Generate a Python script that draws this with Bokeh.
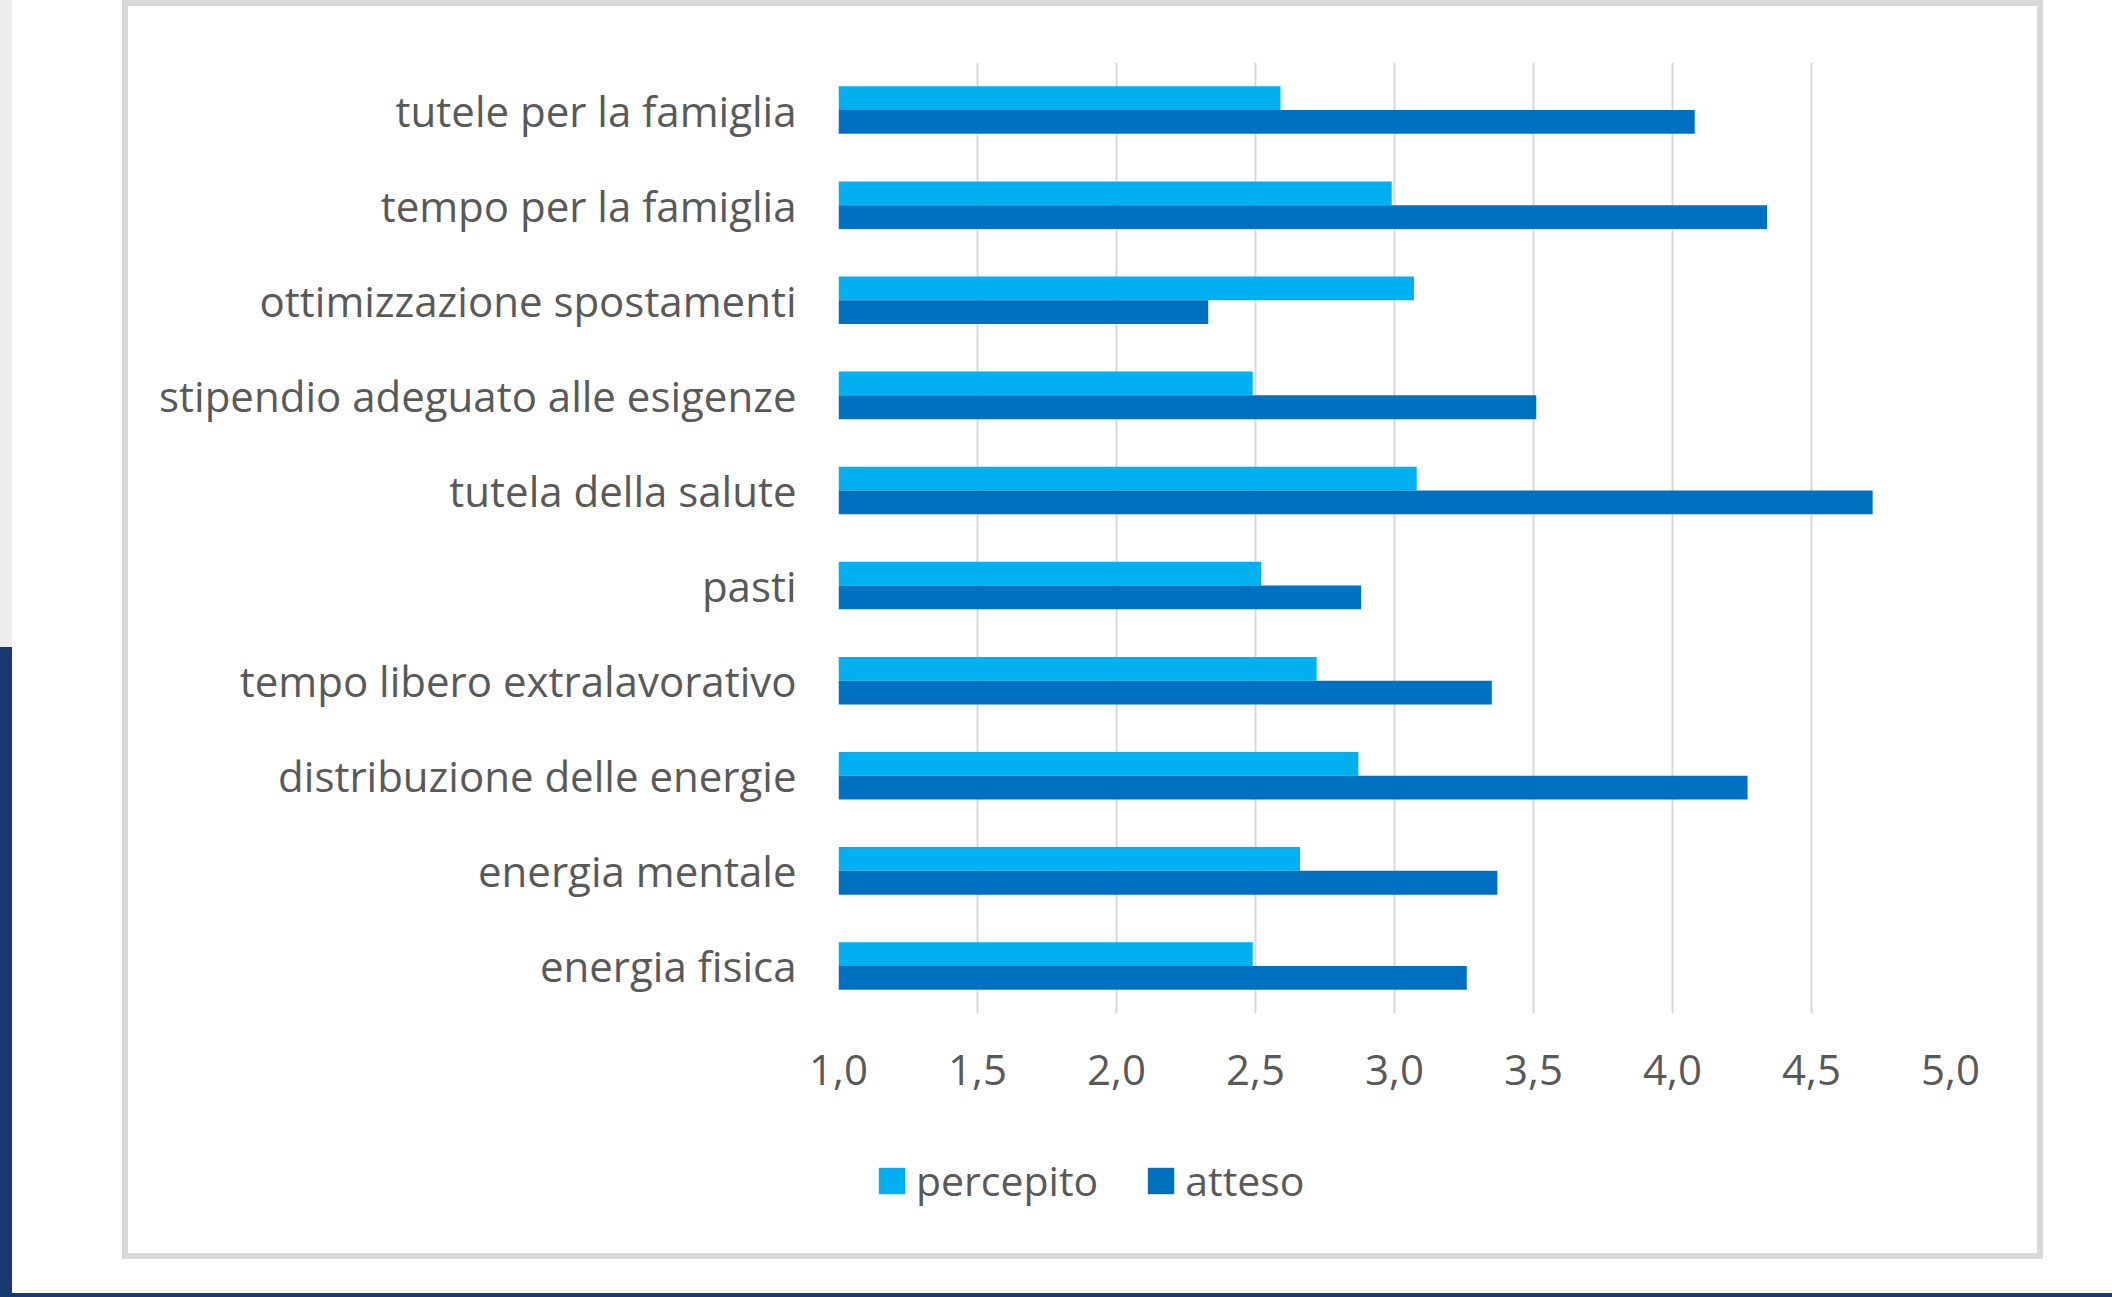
from bokeh.plotting import figure
from bokeh.layouts import column, row
from bokeh.models import (FactorRange, Range1d, FixedTicker, CustomJSTickFormatter,
                          Legend, LegendItem, ColumnDataSource, Div)
from bokeh.transform import dodge
from bokeh.embed import file_html
from bokeh.resources import INLINE

categories = [
    "tutele per la famiglia",
    "tempo per la famiglia",
    "ottimizzazione spostamenti",
    "stipendio adeguato alle esigenze",
    "tutela della salute",
    "pasti",
    "tempo libero extralavorativo",
    "distribuzione delle energie",
    "energia mentale",
    "energia fisica",
]
percepito = [2.59, 2.99, 3.07, 2.49, 3.08, 2.52, 2.72, 2.87, 2.66, 2.49]
atteso = [4.08, 4.34, 2.33, 3.51, 4.72, 2.88, 3.35, 4.27, 3.37, 3.26]
x_ticks = [1.0, 1.5, 2.0, 2.5, 3.0, 3.5, 4.0, 4.5, 5.0]
series_names = ["percepito", "atteso"]
colors = ["#00B0F0", "#0070C0"]

FONT = "Open Sans"
TEXT_COLOR = "#595959"
FS = "42px"
BORDER = "6px solid #D9D9D9"
DARK = "#193A70"

src = ColumnDataSource(dict(cat=categories, percepito=percepito, atteso=atteso))

# ---- main chart (upper part of the chart box) ----
p = figure(
    width=1921, height=1120,
    y_range=FactorRange(factors=list(reversed(categories)), range_padding=0),
    x_range=Range1d(x_ticks[0], x_ticks[-1]),
    output_backend="svg", toolbar_location=None,
    min_border_left=710, min_border_right=99,
    min_border_top=56, min_border_bottom=113,
)
p.styles = {"border-top": BORDER, "border-left": BORDER, "border-right": BORDER,
            "margin-left": "110px"}
p.background_fill_color = "white"
p.border_fill_color = "white"
p.outline_line_color = None

p.hbar(y=dodge("cat", 0.125, range=p.y_range), left=x_ticks[0], right="percepito",
       height=0.25, fill_color=colors[0], line_color=None, source=src)
p.hbar(y=dodge("cat", -0.125, range=p.y_range), left=x_ticks[0], right="atteso",
       height=0.25, fill_color=colors[1], line_color=None, source=src)

p.ygrid.visible = False
p.xgrid.grid_line_color = "#D9D9D9"
p.xgrid.grid_line_width = 2
p.xgrid.level = "underlay"

p.xaxis.ticker = FixedTicker(ticks=x_ticks)
p.xaxis.formatter = CustomJSTickFormatter(code="return tick.toFixed(1).replace('.', ',');")
p.xaxis.axis_line_color = None
p.xaxis.major_tick_line_color = None
p.xaxis.minor_tick_line_color = None
p.xaxis.major_tick_out = 0
p.xaxis.major_label_text_font = FONT
p.xaxis.major_label_text_font_size = FS
p.xaxis.major_label_text_color = TEXT_COLOR
p.xaxis.major_label_standoff = 41

p.yaxis.axis_line_color = None
p.yaxis.major_tick_line_color = None
p.yaxis.minor_tick_line_color = None
p.yaxis.major_tick_out = 0
p.yaxis.major_label_text_font = FONT
p.yaxis.major_label_text_font_size = FS
p.yaxis.major_label_text_color = TEXT_COLOR
p.yaxis.major_label_standoff = 42

# ---- legend strip (lower part of the chart box) ----
q = figure(
    width=1921, height=139,
    x_range=Range1d(x_ticks[0], x_ticks[-1]),
    y_range=FactorRange(factors=list(reversed(categories)), range_padding=0),
    x_axis_type=None, y_axis_type=None,
    output_backend="svg", toolbar_location=None, min_border=0,
)
q.styles = {"border-bottom": BORDER, "border-left": BORDER, "border-right": BORDER,
            "margin-left": "110px"}
q.outline_line_color = None
q.background_fill_color = "white"
q.border_fill_color = "white"
q.grid.visible = False

# same series, hidden here: they only provide the legend swatches
k1 = q.hbar(y=dodge("cat", 0.125, range=q.y_range), left=x_ticks[0], right="percepito",
            height=0.25, fill_color=colors[0], line_color=None, source=src, visible=False)
k2 = q.hbar(y=dodge("cat", -0.125, range=q.y_range), left=x_ticks[0], right="atteso",
            height=0.25, fill_color=colors[1], line_color=None, source=src, visible=False)

legend = Legend(
    items=[LegendItem(label=series_names[0], renderers=[k1]),
           LegendItem(label=series_names[1], renderers=[k2])],
    orientation="horizontal", location=(37, 51),
    padding=0, margin=0, spacing=46,
    glyph_width=33, glyph_height=33, label_standoff=8,
    label_text_font=FONT, label_text_font_size="41px", label_text_color=TEXT_COLOR,
    border_line_color=None, background_fill_alpha=0, inactive_fill_alpha=0,
)
q.add_layout(legend)

# page edge strips seen around the screenshot
edge = Div(text="", width=12, height=1293, margin=(0, 0, 0, 0),
           styles={"background": "linear-gradient(to bottom, #EDEDED 0px, #EDEDED 647px, "
                                 + DARK + " 647px, " + DARK + " 100%)"})
bottom = Div(text="", width=2112, height=4, margin=(0, 0, 0, 0),
             styles={"background": DARK})

layout = column(row(edge, column(p, q, spacing=0), spacing=0), bottom, spacing=0)

open("out.html", "w").write(file_html(layout, INLINE))
